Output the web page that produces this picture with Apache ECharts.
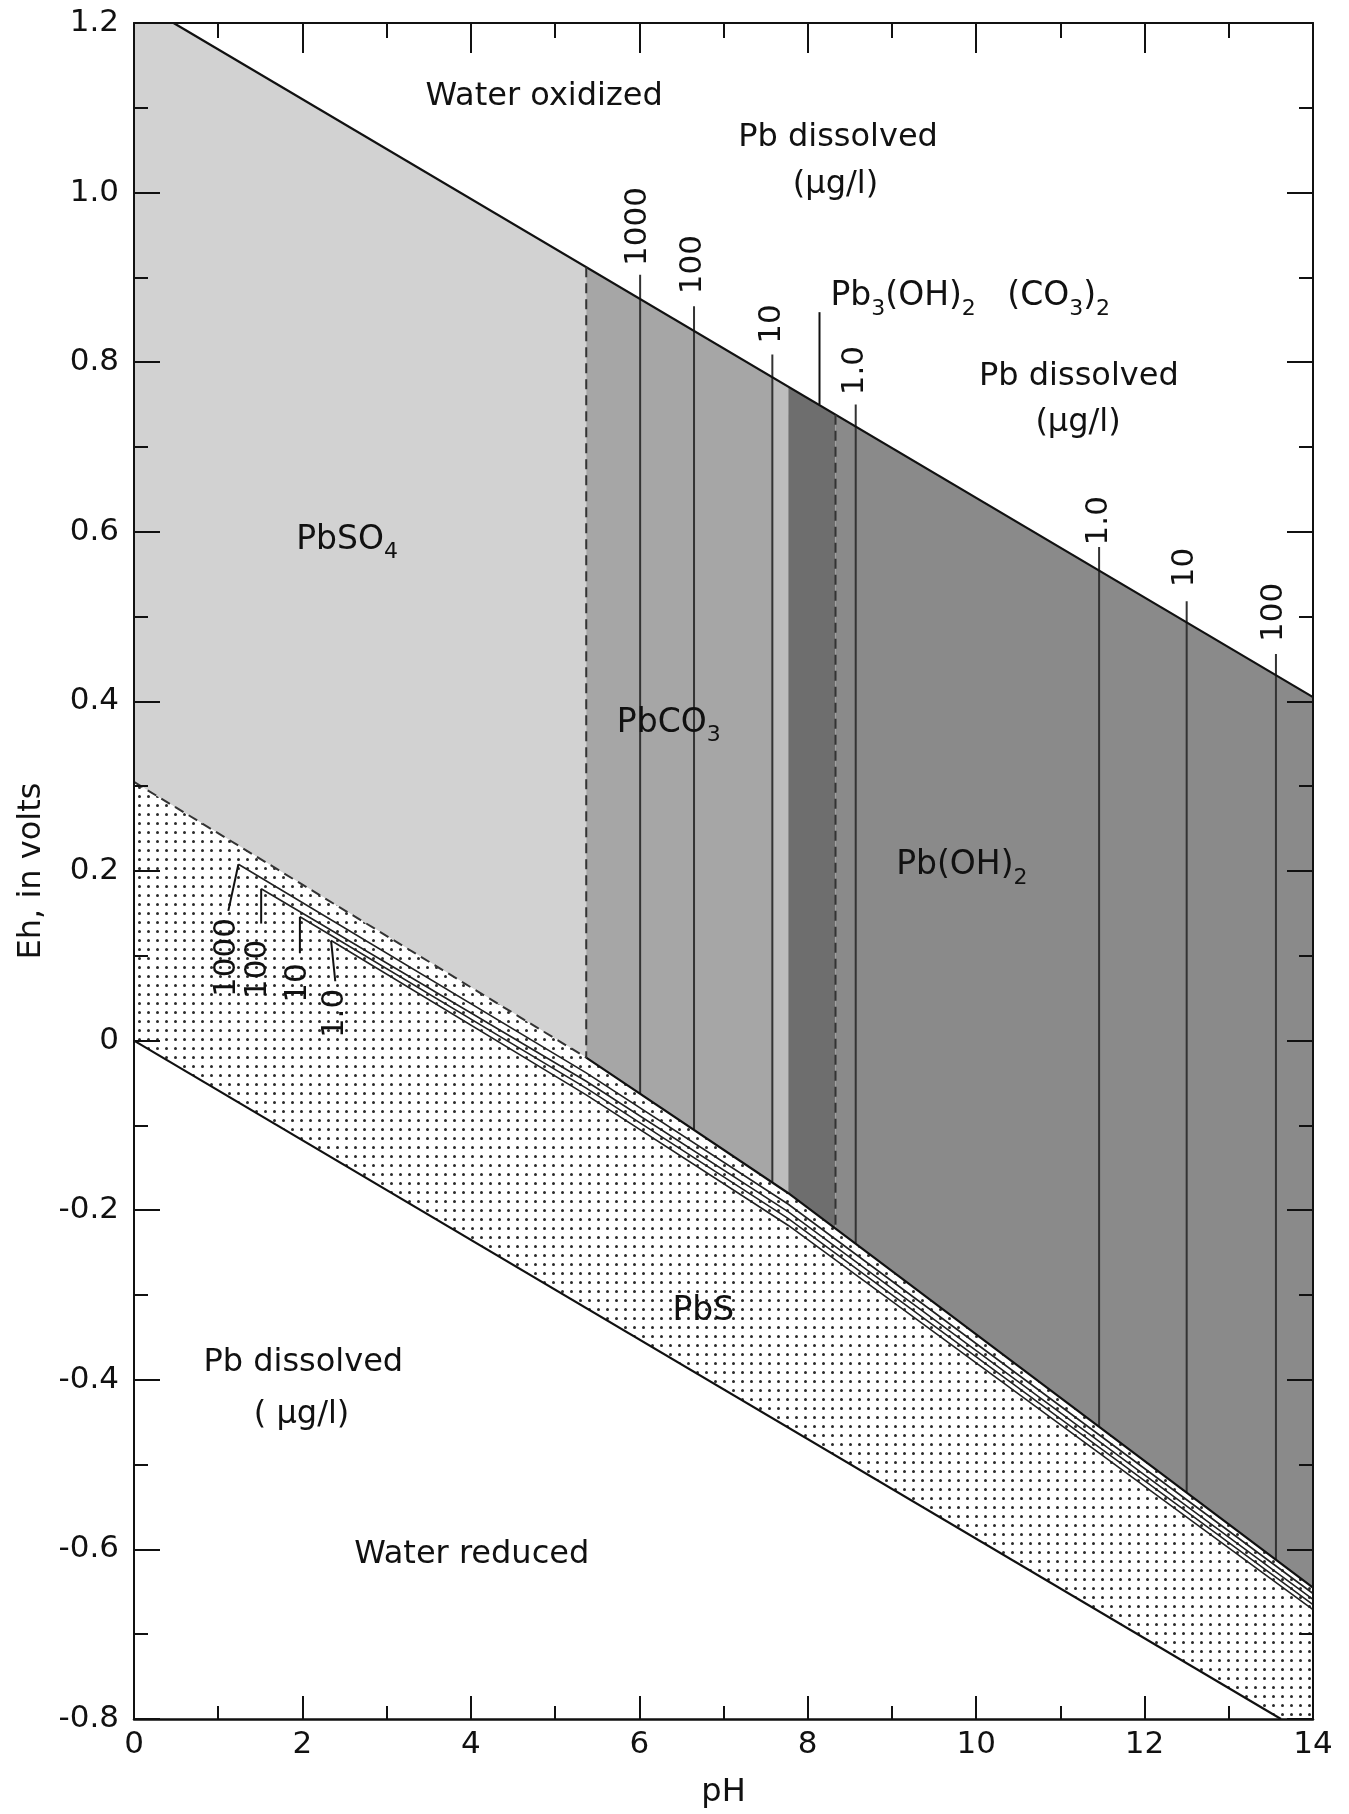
<!DOCTYPE html>
<html>
<head>
<meta charset="utf-8">
<title>Eh-pH diagram, lead</title>
<script src="https://cdn.jsdelivr.net/npm/echarts@6/dist/echarts.min.js"></script>
<style>
  html, body { margin: 0; padding: 0; background: #fff; }
  #chart { width: 1349px; height: 1814px; }
</style>
</head>
<body>
<div id="chart"></div>
<script>
// Eh-pH stability fields for lead; every vertex is [pH, Eh in volts].
var FONT = "DejaVu Sans";
var INK = "#111";

// water stability limits
var waterUpper = [[0.47, 1.2], [14, 0.405]];
var waterLower = [[0, 0], [13.62, -0.8]];

// upper edge of the PbS field (dashed under PbSO4, solid beyond)
var pbsTopAcid = [[0, 0.305], [5.37, -0.02]];
var pbsTopBase = [[5.37, -0.02], [7.77, -0.18], [14, -0.645]];

// stability fields
var pbso4Field = [[0, 1.2], [0.47, 1.2], [5.37, 0.912], [5.37, -0.02], [0, 0.305]];
var pbco3Field = [[5.37, 0.912], [7.77, 0.771], [7.77, -0.18], [5.37, -0.02]];
var pbco3Edge = [[7.58, 0.782], [7.77, 0.771], [7.77, -0.18], [7.58, -0.167]];
var hydroField = [[7.77, 0.771], [8.33, 0.738], [8.33, -0.222], [7.77, -0.18]];
var pbOH2Field = [[8.33, 0.738], [14, 0.405], [14, -0.645], [8.33, -0.222]];
var pbsField = [[0, 0.305], [5.37, -0.02], [7.77, -0.18], [14, -0.645], [14, -0.8], [13.62, -0.8], [0, 0]];

// dissolved-Pb contours along the PbS field: 1000, 100, 10, 1.0 ug/l
var pbsC1000 = [[1.24, 0.208], [5.37, -0.038], [7.77, -0.193], [14, -0.652]];
var pbsC100 = [[1.51, 0.179], [5.37, -0.048], [7.77, -0.202], [14, -0.659]];
var pbsC10 = [[1.97, 0.146], [5.37, -0.056], [7.77, -0.21], [14, -0.665]];
var pbsC1 = [[2.34, 0.118], [5.37, -0.064], [7.77, -0.218], [14, -0.671]];

// vertical solubility contours: pH, Eh at leader top, Eh at PbS edge
var contourPH = [6.01, 6.65, 7.58, 8.57, 11.46, 12.5, 13.56];
var contourTop = [0.903, 0.866, 0.809, 0.75, 0.582, 0.518, 0.456];
var contourBottom = [-0.063, -0.105, -0.167, -0.24, -0.455, -0.533, -0.612];
var contourText = ["1000", "100", "10", "1.0", "1.0", "10", "100"];
var contourLabelAt = [[5.98, 0.96], [6.64, 0.915], [7.58, 0.845], [8.56, 0.79], [11.46, 0.613], [12.48, 0.558], [13.54, 0.505]];

// dashed field boundaries: pH, top Eh, bottom Eh
var dashPH = [5.37, 8.33];
var dashTop = [0.912, 0.738];
var dashBottom = [-0.02, -0.222];

// leader lines
var leaderLines = [
  [[8.14, 0.859], [8.14, 0.75]],
  [[1.12, 0.153], [1.24, 0.208]],
  [[1.51, 0.138], [1.51, 0.179]],
  [[1.97, 0.103], [1.97, 0.146]],
  [[2.39, 0.07], [2.34, 0.118]]
];
var lowText = ["1000", "100", "10", "1.0"];
var lowLabelAt = [[1.1, 0.098], [1.47, 0.084], [1.95, 0.068], [2.39, 0.032]];

// field names
var fieldText = [
  "Water oxidized", "Pb dissolved", "(\u03bcg/l)", "Pb dissolved", "(\u03bcg/l)",
  "Pb dissolved", "( \u03bcg/l)", "Water reduced",
  "{t|PbSO}{s|4}", "{t|PbCO}{s|3}", "{t|Pb(OH)}{s|2}", "{t|PbS}",
  "{t|Pb}{s|3}{t|(OH)}{s|2}{t|   (CO}{s|3}{t|)}{s|2}"
];
var fieldAt = [
  [4.87, 1.113], [8.36, 1.065], [8.33, 1.009], [11.22, 0.783], [11.21, 0.729],
  [2.01, -0.38], [1.99, -0.441], [4.01, -0.606],
  [2.53, 0.59], [6.35, 0.374], [9.83, 0.206], [6.76, -0.319],
  [9.93, 0.877]
];

(function () {
  "use strict";
  var chart = echarts.init(document.getElementById("chart"), null, { renderer: "canvas" });

  // dotted screen for the PbS field
  function dotPattern() {
    var c = document.createElement("canvas");
    c.width = 9; c.height = 9;
    var g = c.getContext("2d");
    g.fillStyle = "#fff"; g.fillRect(0, 0, 9, 9);
    g.fillStyle = "#2a2a2a";
    g.beginPath(); g.arc(4.5, 4.5, 1.5, 0, Math.PI * 2); g.fill();
    return { image: c, repeat: "repeat" };
  }

  function field(points, fill) {
    return {
      type: "custom", coordinateSystem: "cartesian2d", z: 1, silent: true, clip: false,
      data: points,
      renderItem: function (params, api) {
        if (params.dataIndex !== 0) return null;
        return { type: "polygon",
          shape: { points: points.map(function (p) { return api.coord(p); }) },
          style: { fill: fill } };
      }
    };
  }

  // lines series default to half opacity, so force it back to 1
  function segs(list, style, z) {
    style.opacity = 1;
    return { type: "lines", coordinateSystem: "cartesian2d", polyline: true, silent: true,
      z: z, lineStyle: style, data: list.map(function (s) { return { coords: s }; }) };
  }

  var verticals = contourPH.map(function (x, i) { return [[x, contourTop[i]], [x, contourBottom[i]]]; });
  var dashed = dashPH.map(function (x, i) { return [[x, dashTop[i]], [x, dashBottom[i]]]; });

  var labels = [];
  fieldText.forEach(function (t, i) { labels.push({ value: fieldAt[i], label: { formatter: t } }); });
  contourText.forEach(function (t, i) {
    labels.push({ value: contourLabelAt[i], label: { formatter: t, rotate: 90, fontSize: 31 } });
  });
  lowText.forEach(function (t, i) {
    labels.push({ value: lowLabelAt[i], label: { formatter: t, rotate: 90, fontSize: 31 } });
  });

  var tickStyle = { color: INK, width: 2 };
  function xAxis(pos, showLabel) {
    return {
      type: "value", position: pos, min: 0, max: 14, interval: 2, z: 10,
      axisLine: { onZero: false, lineStyle: { color: INK, width: pos === "bottom" ? 2.5 : 2 } },
      axisTick: { inside: true, length: pos === "top" ? 30 : 23, lineStyle: tickStyle },
      minorTick: { show: true, splitNumber: 2, length: pos === "top" ? 15 : 13, lineStyle: tickStyle },
      splitLine: { show: false },
      axisLabel: { show: showLabel, color: INK, fontFamily: FONT, fontSize: 31, margin: 10 },
      name: showLabel ? "pH" : "", nameLocation: "middle", nameGap: 58,
      nameTextStyle: { color: INK, fontFamily: FONT, fontSize: 32 }
    };
  }
  function yAxis(pos, showLabel) {
    return {
      type: "value", position: pos, min: -0.8, max: 1.2, interval: 0.2, z: 10,
      axisLine: { onZero: false, lineStyle: { color: INK, width: 2 } },
      axisTick: { inside: true, length: 26, lineStyle: tickStyle },
      minorTick: { show: true, splitNumber: 2, length: 14, lineStyle: tickStyle },
      splitLine: { show: false },
      axisLabel: { show: showLabel, color: INK, fontFamily: FONT, fontSize: 31, margin: 15,
        formatter: function (v) { return Math.abs(v) < 1e-9 ? "0" : v.toFixed(1); } },
      name: showLabel ? "Eh, in volts" : "", nameLocation: "middle", nameGap: 86, nameRotate: 90,
      nameTextStyle: { color: INK, fontFamily: FONT, fontSize: 32 }
    };
  }

  chart.setOption({
    animation: false,
    backgroundColor: "#fff",
    grid: { left: 134, right: 36, top: 23, bottom: 92, containLabel: false },
    xAxis: [xAxis("bottom", true), xAxis("top", false)],
    yAxis: [yAxis("left", true), yAxis("right", false)],
    series: [
      field(pbso4Field, "#d2d2d2"),
      field(pbco3Field, "#a6a6a6"),
      field(pbco3Edge, "#bdbdbd"),
      field(hydroField, "#6e6e6e"),
      field(pbOH2Field, "#8a8a8a"),
      field(pbsField, dotPattern()),
      segs([waterUpper, waterLower, pbsTopBase], { color: INK, width: 2.2 }, 5),
      segs([pbsTopAcid].concat(dashed), { color: "#333", width: 2, type: [10, 6] }, 5),
      segs([pbsC1000, pbsC100, pbsC10, pbsC1], { color: "#222", width: 1.6 }, 4),
      segs(verticals, { color: "#333", width: 2 }, 4),
      segs(leaderLines, { color: INK, width: 2 }, 4),
      {
        type: "scatter", symbolSize: 0, z: 30, silent: true,
        itemStyle: { color: "rgba(0,0,0,0)", opacity: 1 },
        label: { show: true, position: "inside", color: INK, opacity: 1, fontFamily: FONT, fontSize: 32,
          rich: {
            t: { fontFamily: FONT, fontSize: 33, color: INK, lineHeight: 46 },
            s: { fontFamily: FONT, fontSize: 22, color: INK, lineHeight: 22, verticalAlign: "bottom" }
          } },
        data: labels
      }
    ]
  });

  window.addEventListener("resize", function () { chart.resize(); });
})();
</script>
</body>
</html>
